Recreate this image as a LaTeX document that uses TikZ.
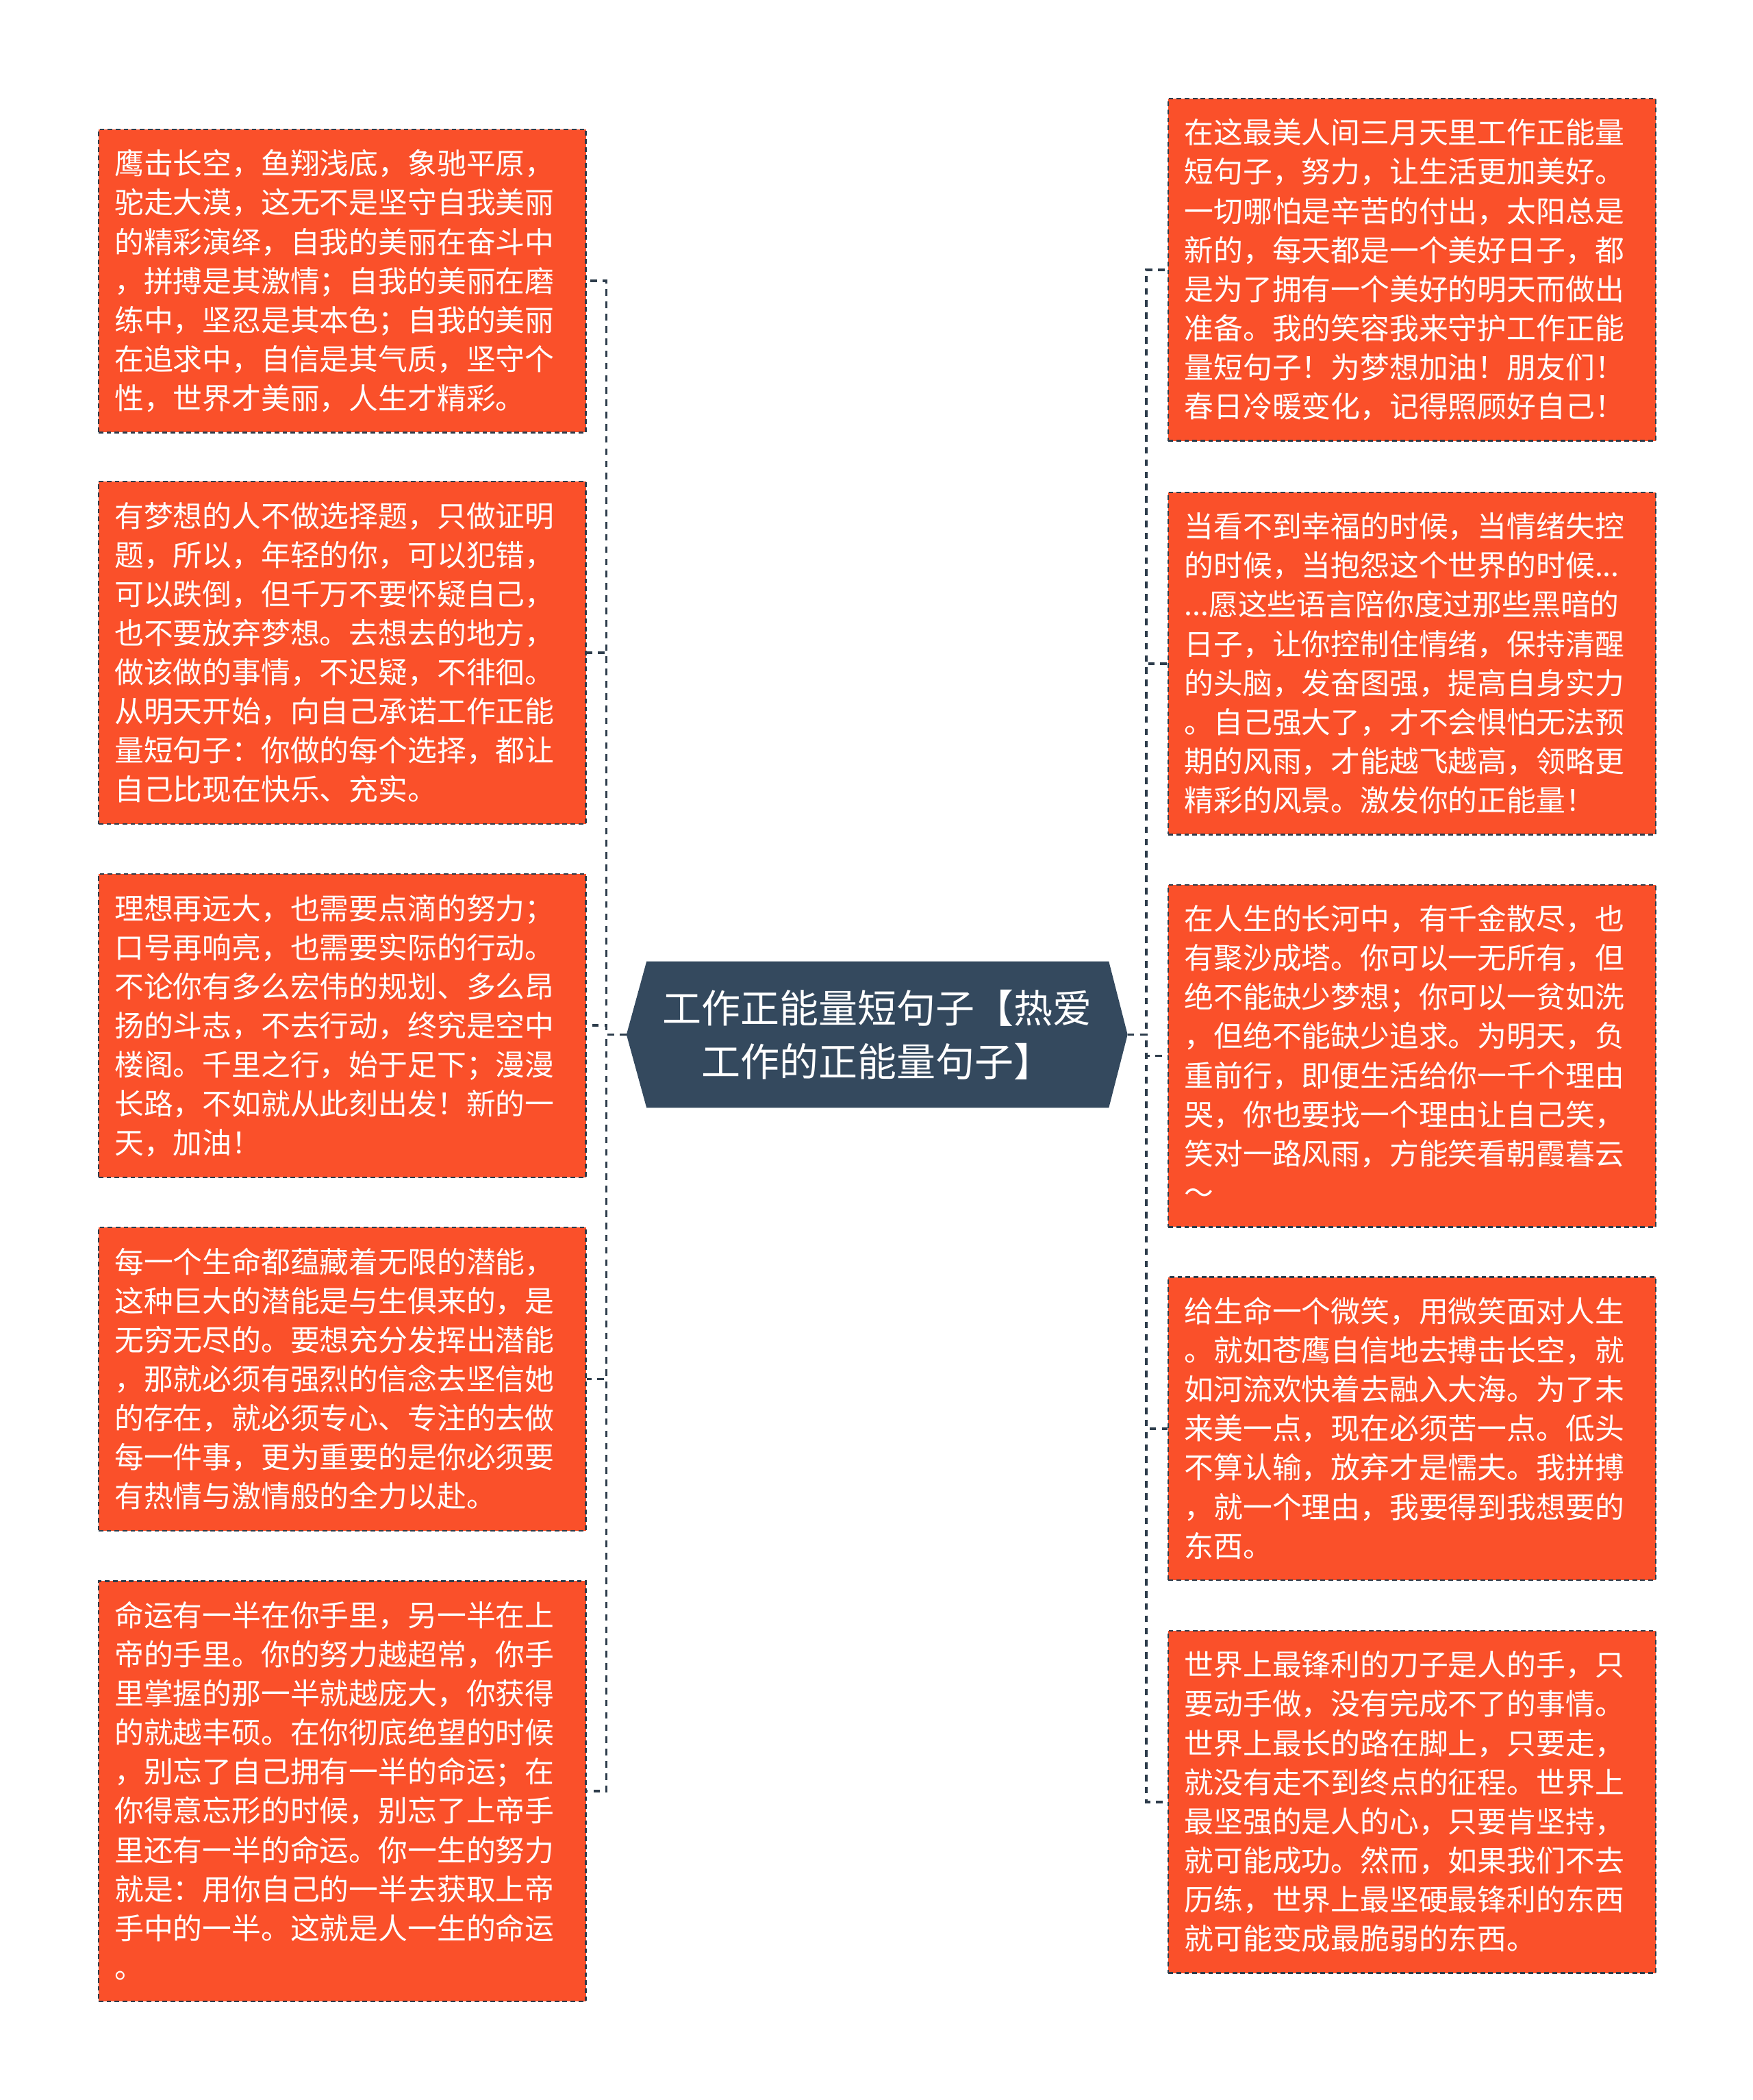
\documentclass[tikz,border=0pt]{standalone}
\usepackage{fontspec}
\newfontfamily\cjk{Noto Sans CJK SC}
\usetikzlibrary{calc,backgrounds}
\definecolor{boxfill}{RGB}{250,80,42}
\definecolor{hexfill}{RGB}{52,73,94}
\definecolor{linecol}{RGB}{45,60,75}
\newcommand\mystrut{\rule[-0.22\baselineskip]{0pt}{\baselineskip}}
\tikzset{
  quote/.style={anchor=north west, fill=boxfill, draw=linecol, line width=1.6pt,
    dash pattern=on 5pt off 3.5pt, text=white, text width=17cm,
    inner xsep=0.6cm, inner ysep=0.55cm, align=left,
    font=\cjk\fontsize{31.15pt}{41.54pt}\selectfont},
  hub/.style={minimum width=18.7cm, minimum height=5.45cm, inner sep=0pt,
    text=white, align=center, font=\cjk\fontsize{41.5pt}{57pt}\selectfont},
  conn/.style={draw=linecol, line width=2.8pt, dash pattern=on 7pt off 6pt}
}
\begin{document}
\begin{tikzpicture}[x=0.05cm,y=-0.05cm]
\useasboundingbox (0,0) rectangle (1309,1568);

% hub
\node[hub] (c) at (655,772.5) {工作正能量短句子【热爱\\工作的正能量句子】};
\begin{scope}[on background layer]
\fill[hexfill] (c.west) -- ($(c.north west)+(15,0)$) -- ($(c.north east)+(-14,0)$)
  -- (c.east) -- ($(c.south east)+(-14,0)$) -- ($(c.south west)+(15,0)$) -- cycle;
\end{scope}

% left boxes
\node[quote] (L1) at (73,96) {\mystrut 鹰击长空，鱼翔浅底，象驰平原，\\驼走大漠，这无不是坚守自我美丽\\的精彩演绎，自我的美丽在奋斗中\\，拼搏是其激情；自我的美丽在磨\\练中，坚忍是其本色；自我的美丽\\在追求中，自信是其气质，坚守个\\性，世界才美丽，人生才精彩。\mystrut};
\node[quote] (L2) at (73,359) {\mystrut 有梦想的人不做选择题，只做证明\\题，所以，年轻的你，可以犯错，\\可以跌倒，但千万不要怀疑自己，\\也不要放弃梦想。去想去的地方，\\做该做的事情，不迟疑，不徘徊。\\从明天开始，向自己承诺工作正能\\量短句子：你做的每个选择，都让\\自己比现在快乐、充实。\mystrut};
\node[quote] (L3) at (73,652) {\mystrut 理想再远大，也需要点滴的努力；\\口号再响亮，也需要实际的行动。\\不论你有多么宏伟的规划、多么昂\\扬的斗志，不去行动，终究是空中\\楼阁。千里之行，始于足下；漫漫\\长路，不如就从此刻出发！新的一\\天，加油！\mystrut};
\node[quote] (L4) at (73,916) {\mystrut 每一个生命都蕴藏着无限的潜能，\\这种巨大的潜能是与生俱来的，是\\无穷无尽的。要想充分发挥出潜能\\，那就必须有强烈的信念去坚信她\\的存在，就必须专心、专注的去做\\每一件事，更为重要的是你必须要\\有热情与激情般的全力以赴。\mystrut};
\node[quote] (L5) at (73,1180) {\mystrut 命运有一半在你手里，另一半在上\\帝的手里。你的努力越超常，你手\\里掌握的那一半就越庞大，你获得\\的就越丰硕。在你彻底绝望的时候\\，别忘了自己拥有一半的命运；在\\你得意忘形的时候，别忘了上帝手\\里还有一半的命运。你一生的努力\\就是：用你自己的一半去获取上帝\\手中的一半。这就是人一生的命运\\。\mystrut};

% right boxes
\node[quote] (R1) at (872,73) {\mystrut 在这最美人间三月天里工作正能量\\短句子，努力，让生活更加美好。\\一切哪怕是辛苦的付出，太阳总是\\新的，每天都是一个美好日子，都\\是为了拥有一个美好的明天而做出\\准备。我的笑容我来守护工作正能\\量短句子！为梦想加油！朋友们！\\春日冷暖变化，记得照顾好自己！\mystrut};
\node[quote] (R2) at (872,367) {\mystrut 当看不到幸福的时候，当情绪失控\\的时候，当抱怨这个世界的时候...\\...愿这些语言陪你度过那些黑暗的\\日子，让你控制住情绪，保持清醒\\的头脑，发奋图强，提高自身实力\\。自己强大了，才不会惧怕无法预\\期的风雨，才能越飞越高，领略更\\精彩的风景。激发你的正能量！\mystrut};
\node[quote] (R3) at (872,660) {\mystrut 在人生的长河中，有千金散尽，也\\有聚沙成塔。你可以一无所有，但\\绝不能缺少梦想；你可以一贫如洗\\，但绝不能缺少追求。为明天，负\\重前行，即便生活给你一千个理由\\哭，你也要找一个理由让自己笑，\\笑对一路风雨，方能笑看朝霞暮云\\～\mystrut};
\node[quote] (R4) at (872,953) {\mystrut 给生命一个微笑，用微笑面对人生\\。就如苍鹰自信地去搏击长空，就\\如河流欢快着去融入大海。为了未\\来美一点，现在必须苦一点。低头\\不算认输，放弃才是懦夫。我拼搏\\，就一个理由，我要得到我想要的\\东西。\mystrut};
\node[quote] (R5) at (872,1217) {\mystrut 世界上最锋利的刀子是人的手，只\\要动手做，没有完成不了的事情。\\世界上最长的路在脚上，只要走，\\就没有走不到终点的征程。世界上\\最坚强的是人的心，只要肯坚持，\\就可能成功。然而，如果我们不去\\历练，世界上最坚硬最锋利的东西\\就可能变成最脆弱的东西。\mystrut};

% connectors
\foreach \b in {L1,L2,L3,L4,L5}
  \draw[conn] (c.west) -- ++(-15,0) |- (\b.east);
\foreach \b in {R1,R2,R3,R4,R5}
  \draw[conn] (c.east) -- ++(14,0) |- (\b.west);
\end{tikzpicture}
\end{document}
